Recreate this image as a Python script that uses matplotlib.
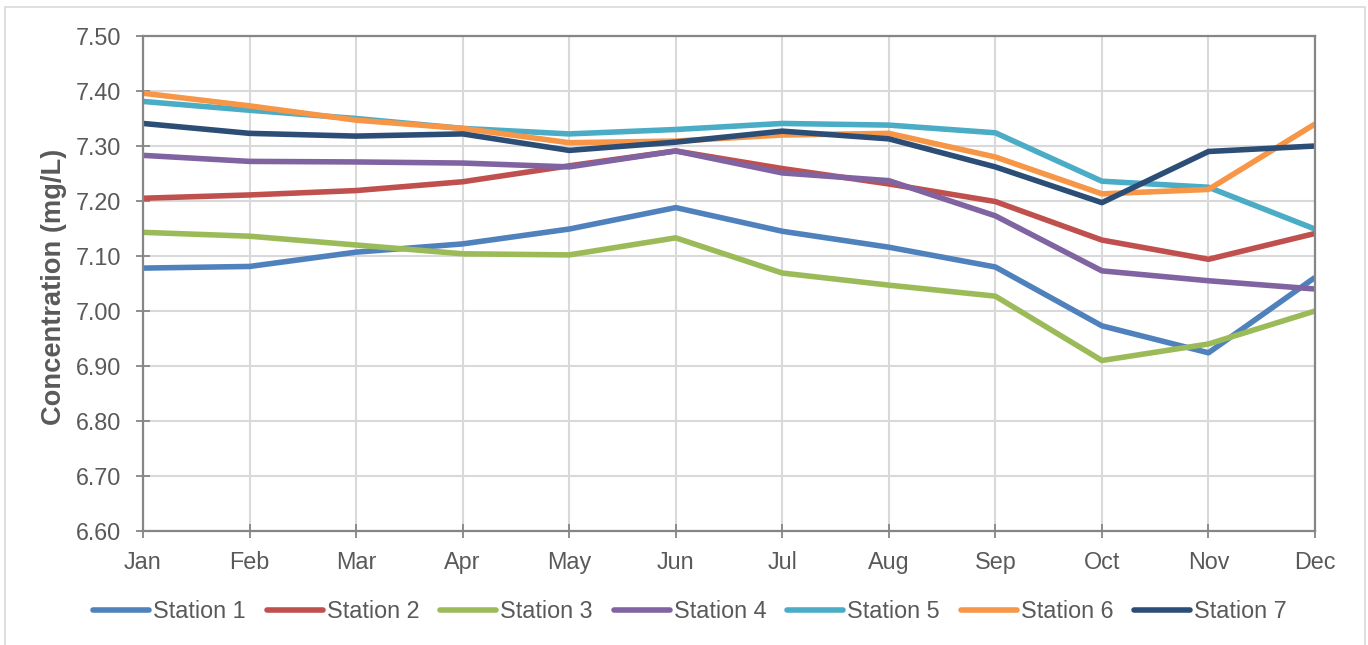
import matplotlib
matplotlib.use("Agg")
import matplotlib.pyplot as plt
from matplotlib.patches import Rectangle

# Monthly mean concentration per monitoring station
months = ["Jan", "Feb", "Mar", "Apr", "May", "Jun",
          "Jul", "Aug", "Sep", "Oct", "Nov", "Dec"]

station_1 = [7.078, 7.081, 7.107, 7.122, 7.149, 7.188, 7.145, 7.116, 7.080, 6.973, 6.924, 7.061]
station_2 = [7.205, 7.211, 7.219, 7.235, 7.264, 7.291, 7.259, 7.231, 7.199, 7.129, 7.094, 7.141]
station_3 = [7.143, 7.136, 7.120, 7.104, 7.102, 7.133, 7.069, 7.047, 7.027, 6.910, 6.940, 7.000]
station_4 = [7.283, 7.272, 7.271, 7.269, 7.262, 7.291, 7.251, 7.237, 7.173, 7.073, 7.055, 7.040]
station_5 = [7.381, 7.365, 7.350, 7.332, 7.322, 7.330, 7.341, 7.338, 7.324, 7.236, 7.225, 7.149]
station_6 = [7.396, 7.373, 7.347, 7.332, 7.306, 7.309, 7.320, 7.323, 7.280, 7.213, 7.221, 7.340]
station_7 = [7.341, 7.323, 7.318, 7.322, 7.292, 7.307, 7.327, 7.313, 7.262, 7.197, 7.290, 7.300]

series_names = ["Station 1", "Station 2", "Station 3", "Station 4",
                "Station 5", "Station 6", "Station 7"]
series_values = [station_1, station_2, station_3, station_4,
                 station_5, station_6, station_7]
colors = ["#4F81BD", "#C0504D", "#9BBB59", "#8064A2",
          "#4BACC6", "#F79646", "#2C4D75"]

y_ticks = [6.60, 6.70, 6.80, 6.90, 7.00, 7.10, 7.20, 7.30, 7.40, 7.50]

plt.rcParams["font.family"] = ["Liberation Sans", "DejaVu Sans"]
text_color = "#595959"
axis_color = "#868686"
grid_color = "#D9D9D9"

W, H = 1368, 645
fig = plt.figure(figsize=(W / 100, H / 100), dpi=100)

# light outer frame of the chart area
fig.patches.append(Rectangle((5 / W, -0.01), (1365 - 5) / W, 1 - 7 / H + 0.01,
                             transform=fig.transFigure, fill=False,
                             edgecolor=grid_color, linewidth=1.2))

ax = fig.add_axes([143 / W, (H - 531) / H, (1315 - 143) / W, (531 - 36) / H])

x = list(range(len(months)))
for name, vals, col in zip(series_names, series_values, colors):
    ax.plot(x, vals, color=col, linewidth=4.0, label=name,
            solid_capstyle="butt", solid_joinstyle="round", zorder=3)

ax.set_xlim(0, len(months) - 1)
ax.set_ylim(6.6, 7.5)
ax.set_xticks(x)
ax.set_xticklabels(months)
ax.set_yticks(y_ticks)
ax.set_yticklabels([f"{v:.2f}" for v in y_ticks])

ax.grid(True, color=grid_color, linewidth=1.5, zorder=0)
ax.set_axisbelow(True)
for side in ["left", "right", "top", "bottom"]:
    ax.spines[side].set_color(axis_color)
    ax.spines[side].set_linewidth(1.6)
    ax.spines[side].set_zorder(4)

ax.tick_params(axis="both", direction="inout", length=10, width=1.3,
               color=axis_color, labelcolor=text_color, labelsize=16.8)
ax.tick_params(axis="y", pad=10.5)
ax.tick_params(axis="x", pad=9.5)

fig.text(54 / W, 1 - 287 / H, "Concentration (mg/L)", rotation=90,
         ha="center", va="center", fontsize=19.6, fontweight="bold",
         color=text_color)

leg = fig.legend(loc="center", bbox_to_anchor=(690 / W, 1 - 612 / H),
                 ncol=7, frameon=False, fontsize=16.8,
                 handlelength=2.4, handletextpad=0.17, columnspacing=0.9,
                 borderaxespad=0, borderpad=0)
for t in leg.get_texts():
    t.set_color(text_color)
for h in leg.get_lines():
    h.set_linewidth(4.0)
    h.set_solid_capstyle("round")

fig.savefig("out.png", dpi=100)
